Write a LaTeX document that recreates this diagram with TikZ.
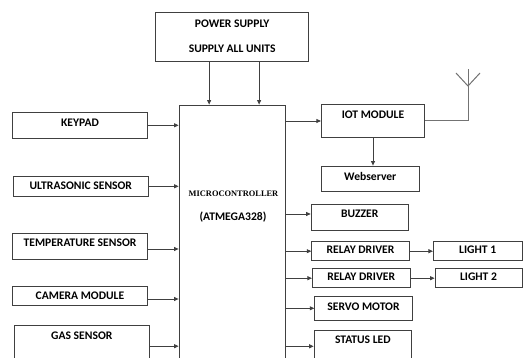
\documentclass[tikz,border=0pt]{standalone}
\usepackage{fontspec}
\newfontfamily\calibfont{Carlito}
\newfontfamily\seriffont{Liberation Serif}
\usetikzlibrary{arrows.meta,calc}

\tikzset{
  blkbase/.style={draw=black!75, line width=0.8pt, inner sep=0pt,
    font=\calibfont\bfseries\fontsize{11.6}{13.5}\selectfont},
  blk/.style={blkbase, text height=7.4pt, text depth=#1},
  blk/.default=0pt,
  conn/.style={draw=black!75, line width=0.8pt, -{Triangle[length=4.5pt,width=4pt]}},
  wire/.style={draw=black!55, line width=1pt},
}

\begin{document}
\begin{tikzpicture}[x=1pt,y=-1pt]
        \useasboundingbox (0,0) rectangle (523,358);

        \node[blkbase, align=center, minimum width=153pt, minimum height=49pt] (ps) at (232.2,36.5)
            {POWER SUPPLY\\[11.5pt]SUPPLY ALL UNITS};
        \node[blk, minimum width=106pt, minimum height=265pt] (mcu) at (232,237.5) {};
        \node[text height=5.5pt, text depth=0pt, inner sep=0pt,
            font=\seriffont\bfseries\fontsize{8.4}{10}\selectfont] (mcutop) at (233.5,194) {MICROCONTROLLER};
        \node[blk, draw=none] (mcubot) at (233,216.7) {(ATMEGA328)};

        \node[blk=4pt, minimum width=135.4pt, minimum height=26pt] (kpd) at (80,125.3) {KEYPAD};
        \node[blk, minimum width=135pt, minimum height=20.7pt] (ult) at (80.8,186.3) {ULTRASONIC SENSOR};
        \node[blk=6pt, minimum width=135.4pt, minimum height=26pt] (tmp) at (80,246.3) {TEMPERATURE SENSOR};
        \node[blk, minimum width=135.4pt, minimum height=19.7pt] (cam) at (80,295.8) {CAMERA MODULE};
        \node[blk=20.4pt, minimum width=135pt, minimum height=41.7pt] (gas) at (81.8,346.2) {GAS SENSOR};

        \node[blk=12pt, minimum width=103.4pt, minimum height=33.4pt] (iot) at (373,121) {IOT MODULE};
        \node[blk=2.4pt, minimum width=98pt, minimum height=25pt] (web) at (370.3,178.5) {Webserver};
        \node[blk=5.8pt, minimum width=97.3pt, minimum height=25.7pt] (bzr) at (359.7,217.2) {BUZZER};
        \node[blk=2.4pt, minimum width=97.6pt, minimum height=19pt] (rd1) at (360.5,251.2) {RELAY DRIVER};
        \node[blk=2.4pt, minimum width=88.7pt, minimum height=19pt] (lt1) at (477.7,251.2) {LIGHT 1};
        \node[blk=2.4pt, minimum width=97.7pt, minimum height=19pt] (rd2) at (361.2,278.2) {RELAY DRIVER};
        \node[blk=2.4pt, minimum width=87pt, minimum height=19pt] (lt2) at (478.5,278.2) {LIGHT 2};
        \node[blk=2.6pt, minimum width=97.6pt, minimum height=23.3pt] (srv) at (363.5,308.3) {SERVO MOTOR};
        \node[blk=12.6pt, minimum width=97.7pt, minimum height=31.3pt] (led) at (362.9,346.3) {STATUS LED};

        \coordinate (psA) at ($(ps.south west)!.35!(ps.south east)$);
        \coordinate (psB) at ($(ps.south west)!.675!(ps.south east)$);
        \draw[conn] (psA) -- (psA |- mcu.north);
        \draw[conn] (psB) -- (psB |- mcu.north);

        \coordinate (tmpout) at ([yshift=-2.7pt]tmp.east);
        \coordinate (camout) at ([yshift=-3.2pt]cam.east);
        \draw[conn] (kpd.east) -- (kpd.east -| mcu.west);
        \draw[conn] (ult.east) -- (ult.east -| mcu.west);
        \draw[conn] (tmpout) -- (tmpout -| mcu.west);
        \draw[conn] (camout) -- (camout -| mcu.west);
        \draw[conn] (gas.east) -- (gas.east -| mcu.west);

        \coordinate (bzrin) at ([yshift=3.2pt]bzr.west);
        \draw[conn] (iot.west -| mcu.east) -- (iot.west);
        \draw[conn] (iot.south) -- (iot.south |- web.north);
        \draw[conn] (bzrin -| mcu.east) -- (bzrin);
        \draw[conn] (rd1.west -| mcu.east) -- (rd1.west);
        \draw[conn] (rd2.west -| mcu.east) -- (rd2.west);
        \draw[conn] (srv.west -| mcu.east) -- (srv.west);
        \draw[conn] (led.west -| mcu.east) -- (led.west);
        \draw[conn] (rd1.east) -- (lt1.west);
        \draw[conn] (rd2.east) -- (lt2.west);

        \coordinate (ant) at (468,69);
        \draw[wire] (iot.east) -| (ant);
        \draw[wire] (ant) ++(-12,4) -- ++(12,13) -- ++(12,-13);

    \end{tikzpicture}
\end{document}
